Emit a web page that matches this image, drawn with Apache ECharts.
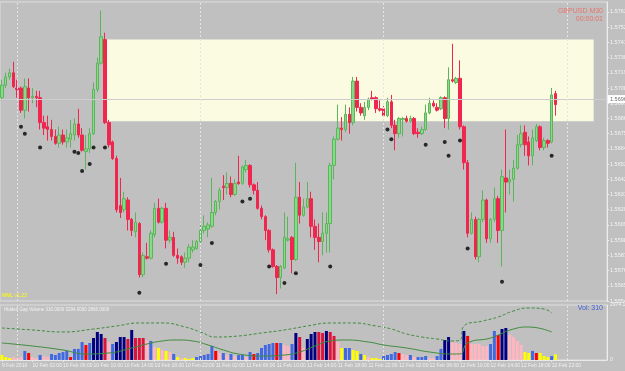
<!DOCTYPE html>
<html>
<head>
<meta charset="utf-8">
<title>GBPUSD M30</title>
<script src="https://cdn.jsdelivr.net/npm/echarts@6/dist/echarts.min.js"></script>
<style>
    html, body { margin: 0; padding: 0; background: #c0c0c0; }
    #main { width: 625px; height: 371px; }
</style>
</head>
<body>
<div id="main"></div>
<script>
    // M30 bars, [open, close, low, high]
    var candles = [
        [1.5701,1.5710,1.5699,1.5714],[1.5710,1.5716,1.5708,1.5719],[1.5716,1.5719,1.5714,1.5722],[1.5719,1.5709,1.5708,1.5727],
        [1.5708,1.5707,1.5701,1.5714],[1.5708,1.5692,1.5690,1.5709],[1.5692,1.5709,1.5686,1.5715],[1.5708,1.5701,1.5691,1.5715],
        [1.5701,1.5702,1.5697,1.5708],[1.5702,1.5701,1.5694,1.5706],[1.5701,1.5683,1.5678,1.5706],[1.5683,1.5679,1.5674,1.5688],
        [1.5680,1.5678,1.5670,1.5688],[1.5678,1.5673,1.5670,1.5685],[1.5673,1.5668,1.5667,1.5678],[1.5668,1.5674,1.5665,1.5680],
        [1.5674,1.5669,1.5667,1.5678],[1.5669,1.5672,1.5665,1.5678],[1.5671,1.5675,1.5665,1.5685],[1.5674,1.5682,1.5670,1.5686],
        [1.5682,1.5674,1.5672,1.5693],[1.5674,1.5663,1.5662,1.5679],[1.5662,1.5664,1.5649,1.5674],[1.5664,1.5675,1.5661,1.5679],
        [1.5675,1.5707,1.5674,1.5712],[1.5707,1.5726,1.5705,1.5730],[1.5726,1.5745,1.5725,1.5764],[1.5743,1.5683,1.5682,1.5748],
        [1.5683,1.5667,1.5665,1.5685],[1.5669,1.5657,1.5656,1.5670],[1.5657,1.5620,1.5618,1.5659],[1.5623,1.5618,1.5614,1.5643],
        [1.5620,1.5628,1.5618,1.5633],[1.5627,1.5613,1.5605,1.5629],[1.5613,1.5605,1.5601,1.5614],[1.5604,1.5611,1.5600,1.5618],
        [1.5610,1.5573,1.5571,1.5611],[1.5573,1.5587,1.5571,1.5589],[1.5586,1.5585,1.5584,1.5596],[1.5585,1.5603,1.5584,1.5605],
        [1.5602,1.5621,1.5600,1.5625],[1.5621,1.5611,1.5610,1.5628],[1.5611,1.5621,1.5610,1.5622],[1.5621,1.5598,1.5592,1.5625],
        [1.5598,1.5600,1.5596,1.5605],[1.5600,1.5587,1.5586,1.5604],[1.5587,1.5585,1.5581,1.5592],[1.5586,1.5582,1.5580,1.5587],
        [1.5582,1.5585,1.5578,1.5589],[1.5585,1.5593,1.5582,1.5595],[1.5591,1.5593,1.5589,1.5598],[1.5592,1.5597,1.5591,1.5598],
        [1.5597,1.5605,1.5596,1.5609],[1.5605,1.5608,1.5603,1.5616],[1.5606,1.5609,1.5600,1.5611],[1.5608,1.5618,1.5607,1.5643],
        [1.5618,1.5626,1.5616,1.5627],[1.5626,1.5634,1.5620,1.5636],[1.5637,1.5636,1.5627,1.5645],[1.5636,1.5639,1.5631,1.5647],
        [1.5639,1.5631,1.5629,1.5644],[1.5631,1.5639,1.5630,1.5642],[1.5640,1.5639,1.5638,1.5659],[1.5639,1.5651,1.5638,1.5652],
        [1.5649,1.5652,1.5647,1.5656],[1.5652,1.5638,1.5636,1.5653],[1.5638,1.5634,1.5631,1.5639],[1.5634,1.5621,1.5620,1.5640],
        [1.5621,1.5615,1.5613,1.5623],[1.5615,1.5605,1.5598,1.5616],[1.5605,1.5591,1.5589,1.5606],[1.5591,1.5579,1.5578,1.5592],
        [1.5579,1.5571,1.5559,1.5580],[1.5571,1.5579,1.5563,1.5580],[1.5578,1.5600,1.5577,1.5618],[1.5598,1.5599,1.5597,1.5615],
        [1.5600,1.5584,1.5574,1.5601],[1.5584,1.5629,1.5583,1.5654],[1.5629,1.5616,1.5610,1.5640],[1.5616,1.5622,1.5615,1.5628],
        [1.5622,1.5628,1.5621,1.5640],[1.5628,1.5608,1.5600,1.5633],[1.5608,1.5600,1.5591,1.5613],[1.5600,1.5597,1.5582,1.5610],
        [1.5597,1.5603,1.5587,1.5618],[1.5603,1.5610,1.5589,1.5618],[1.5610,1.5652,1.5589,1.5654],[1.5652,1.5671,1.5642,1.5673],
        [1.5671,1.5679,1.5670,1.5696],[1.5679,1.5678,1.5670,1.5687],[1.5678,1.5689,1.5676,1.5696],[1.5689,1.5683,1.5675,1.5694],
        [1.5683,1.5713,1.5681,1.5716],[1.5713,1.5694,1.5691,1.5716],[1.5694,1.5690,1.5688,1.5697],[1.5688,1.5694,1.5685,1.5698],
        [1.5694,1.5700,1.5692,1.5701],[1.5701,1.5700,1.5699,1.5706],[1.5701,1.5693,1.5690,1.5702],[1.5693,1.5692,1.5691,1.5699],
        [1.5693,1.5688,1.5687,1.5695],[1.5688,1.5698,1.5687,1.5701],[1.5698,1.5681,1.5679,1.5703],[1.5681,1.5675,1.5663,1.5685],
        [1.5675,1.5686,1.5672,1.5687],[1.5685,1.5686,1.5673,1.5687],[1.5686,1.5684,1.5683,1.5688],[1.5684,1.5686,1.5683,1.5688],
        [1.5686,1.5675,1.5674,1.5687],[1.5676,1.5675,1.5672,1.5679],[1.5675,1.5678,1.5674,1.5680],[1.5678,1.5690,1.5677,1.5696],
        [1.5690,1.5697,1.5689,1.5701],[1.5697,1.5695,1.5694,1.5699],[1.5694,1.5692,1.5691,1.5697],[1.5693,1.5701,1.5692,1.5702],
        [1.5701,1.5686,1.5679,1.5702],[1.5686,1.5714,1.5678,1.5723],[1.5714,1.5713,1.5712,1.5740],[1.5712,1.5715,1.5711,1.5716],
        [1.5715,1.5680,1.5678,1.5728],[1.5680,1.5654,1.5649,1.5681],[1.5654,1.5603,1.5600,1.5656],[1.5603,1.5613,1.5602,1.5618],
        [1.5613,1.5586,1.5584,1.5615],[1.5586,1.5613,1.5582,1.5614],[1.5613,1.5627,1.5611,1.5634],[1.5627,1.5599,1.5596,1.5628],
        [1.5599,1.5613,1.5596,1.5614],[1.5613,1.5628,1.5611,1.5636],[1.5628,1.5605,1.5596,1.5630],[1.5605,1.5644,1.5579,1.5649],
        [1.5643,1.5640,1.5618,1.5678],[1.5640,1.5642,1.5631,1.5649],[1.5642,1.5650,1.5626,1.5656],[1.5650,1.5667,1.5649,1.5674],
        [1.5667,1.5675,1.5665,1.5681],[1.5676,1.5667,1.5659,1.5681],[1.5669,1.5659,1.5652,1.5673],[1.5659,1.5672,1.5652,1.5678],
        [1.5670,1.5680,1.5669,1.5682],[1.5680,1.5665,1.5663,1.5681],[1.5665,1.5670,1.5663,1.5672],[1.5670,1.5668,1.5665,1.5671],
        [1.5669,1.5703,1.5668,1.5708],[1.5704,1.5696,1.5688,1.5706]
    ];

    // black markers under the bars: bar index and price
    var dotIndex = [5, 6, 10, 19, 20, 21, 23, 24, 27, 36, 43, 52, 55, 63, 65, 70, 74, 77, 86, 101, 102, 111, 116, 117, 120, 122, 131, 144];
    var dotPrice = [1.5680, 1.5675, 1.5665, 1.5662, 1.5661, 1.5648, 1.5653, 1.5665, 1.5665, 1.5560, 1.5581, 1.5580, 1.5596, 1.5626,
        1.5628, 1.5579, 1.5567, 1.5574, 1.5579, 1.5678, 1.5671, 1.5667, 1.5669, 1.5659, 1.5670, 1.5592, 1.5568, 1.5659];

    // supply zone (yellow box) and its bars
    var zoneHigh = 1.5743;
    var zoneLow = 1.5684;
    var zoneFrom = 27;
    var zoneTo = 155;

    // tick volume and colour code of each bar
    var volumes = [
        270, 160, 110, 160, 110, 160, 490, 380, 160, 110, 270, 215, 160, 325, 270, 380, 430, 490, 160, 600,
        600, 975, 810, 920, 1190, 1515, 1405, 1190, 975, 865, 975, 1245, 1245, 1135, 1625, 1190, 1190, 1190, 1030, 1030,
        705, 650, 540, 490, 430, 325, 160, 110, 110, 55, 110, 160, 215, 270, 325, 760, 490, 380, 380, 270,
        325, 215, 270, 270, 160, 430, 325, 380, 650, 810, 865, 920, 920, 920, 810, 760, 865, 1460, 1245, 650,
        1135, 1405, 1515, 1515, 1460, 1570, 1515, 1300, 975, 650, 650, 650, 540, 490, 325, 270, 160, 110, 110, 55,
        215, 270, 325, 430, 380, 325, 270, 270, 160, 160, 160, 215, 110, 110, 215, 600, 1080, 1245, 975, 920,
        865, 1570, 1300, 865, 865, 865, 760, 760, 865, 1570, 1355, 1675, 1730, 1355, 1245, 1030, 810, 430, 380, 490,
        380, 380, 215, 160, 215, 310
    ];
    var volCodes = [
        'yyypppbrpp', 'bppbbbbbrb', 'bbrbnnncpb', 'nnncncccpb', 'pypypbypyy', 'ybbbbbrpbp', 'bpbbpbrbbb',
        'bbrbppbncp', 'nnnccnccpy', 'bbyybypyyy', 'bbbbrppbpb', 'bbppbbnnpp', 'pnrpppppbb', 'rnnppppyyb', 'ryyyby'
    ].join('');

    // the two volume averages, [bar index, value]
    var maSlow = [[0, 1731], [8, 1623], [16, 1515], [24, 1677], [30, 1839], [36, 2002], [42, 2002], [48, 1785], [52, 1515],
        [56, 1244], [62, 1298], [68, 1461], [74, 1623], [80, 1839], [86, 2002], [92, 2002], [98, 1839], [102, 1677],
        [106, 1407], [110, 1244], [114, 1136], [118, 1028], [120, 1082], [121, 1839], [126, 2110], [130, 2326],
        [134, 2651], [138, 2813], [142, 2759], [144, 2543]];
    var maFast = [[0, 920], [8, 757], [16, 541], [22, 325], [28, 379], [34, 649], [38, 866], [42, 1028], [46, 1082], [50, 1028],
        [54, 812], [58, 541], [62, 325], [68, 216], [74, 271], [78, 433], [82, 757], [86, 1028], [90, 1082], [96, 974],
        [100, 812], [106, 649], [112, 433], [118, 325], [120, 325], [122, 920], [128, 1190], [134, 1677], [138, 1785],
        [144, 1515]];

    var dateLabels = ['9 Feb 2010', '10 Feb 02:00', '10 Feb 06:00', '10 Feb 10:00', '10 Feb 14:00', '10 Feb 18:00',
        '10 Feb 22:00', '11 Feb 02:00', '11 Feb 06:00', '11 Feb 10:00', '11 Feb 14:00', '11 Feb 18:00', '11 Feb 22:00',
        '12 Feb 02:00', '12 Feb 06:00', '12 Feb 10:00', '12 Feb 14:00', '12 Feb 18:00', '12 Feb 22:00'];
    var daySeparators = [4, 52, 100, 148];

    var SLOTS = 159;          // bars plus the empty shift on the right
    var LABEL_STEP = 8;       // one date label every 4 hours

    var volColorMap = {
        y: '#ffff00', p: '#ffb6c1', b: '#4169e1', n: '#000080', r: '#ff0000', c: '#dc143c'
    };

    var cats = [];
    for (var i = 0; i < SLOTS; i++) cats.push('b' + i);

    var dots = [];
    for (var i = 0; i < dotIndex.length; i++) dots.push([dotIndex[i], dotPrice[i]]);

    var volData = [];
    for (var i = 0; i < volumes.length; i++) {
        volData.push({ value: volumes[i], itemStyle: { color: volColorMap[volCodes[i]] } });
    }

    var lastClose = candles[candles.length - 1][1];

    var sepLines = daySeparators.map(function (k) { return { xAxis: cats[k] }; });
    var sepStyle = {
        silent: true, symbol: 'none', animation: false,
        label: { show: false },
        lineStyle: { color: '#e4e4e4', type: [2, 2], width: 1 },
        data: sepLines
    };

    function showDate(idx) {
        return idx % LABEL_STEP === 0 && idx / LABEL_STEP < dateLabels.length;
    }

    var chart = echarts.init(document.getElementById('main'));
    var smallFont = 'Liberation Sans';

    var option = {
        backgroundColor: '#c0c0c0',
        animation: false,
        grid: [
            { left: 0, top: 2, width: 607, height: 299, outerBoundsMode: 'none', containLabel: false,
              show: true, borderColor: '#dedede', borderWidth: 1 },
            { left: 0, top: 305, width: 607, height: 55, outerBoundsMode: 'none', containLabel: false,
              show: true, borderColor: '#dedede', borderWidth: 1 }
        ],
        xAxis: [
            {
                type: 'category', gridIndex: 0, data: cats, boundaryGap: true,
                axisLine: { show: false }, axisTick: { show: false }, axisLabel: { show: false },
                splitLine: { show: false }
            },
            {
                type: 'category', gridIndex: 1, data: cats, boundaryGap: true,
                axisLine: { show: true, lineStyle: { color: '#e8e8e8' } },
                axisTick: {
                    show: true, length: 2, alignWithLabel: true, lineStyle: { color: '#e8e8e8' },
                    interval: showDate
                },
                axisLabel: {
                    show: true, color: '#f2f2f2', fontSize: 5, fontFamily: smallFont, align: 'left', margin: 3,
                    interval: showDate, showMinLabel: true, hideOverlap: false,
                    formatter: function (val, idx) { return dateLabels[idx / LABEL_STEP] || ''; }
                },
                splitLine: { show: false }
            }
        ],
        yAxis: [
            {
                type: 'value', gridIndex: 0, position: 'right', scale: true,
                min: 1.5554, max: 1.57702, interval: 0.0011,
                axisLine: { show: true, lineStyle: { color: '#ececec' } },
                axisTick: { show: true, length: 2, lineStyle: { color: '#ececec' } },
                axisLabel: {
                    color: '#f4f4f4', fontSize: 5.5, fontFamily: smallFont, margin: 3, showMaxLabel: false,
                    formatter: function (v) { return v.toFixed(5); }
                },
                splitLine: { show: false }
            },
            {
                type: 'value', gridIndex: 1, position: 'right',
                min: 0, max: 2974.16, interval: 2974.16,
                axisLine: { show: true, lineStyle: { color: '#ececec' } },
                axisTick: { show: false },
                axisLabel: {
                    color: '#f4f4f4', fontSize: 5, fontFamily: smallFont, margin: 3,
                    formatter: function (v) { return v === 0 ? '0' : v.toFixed(2); }
                },
                splitLine: { show: false }
            }
        ],
        graphic: [
            { type: 'text', right: 22, top: 8, style: { text: 'GBPUSD M30', fill: '#e8736b', font: '7px "Liberation Sans"' } },
            { type: 'text', right: 22, top: 16, style: { text: '00:00:01', fill: '#e8736b', font: '7px "Liberation Sans"' } },
            { type: 'text', left: 2, top: 293, style: { text: 'MML v1.23', fill: '#ffff00', font: '5px "Liberation Sans"' } },
            { type: 'text', left: 4, top: 307, style: { text: 'Hidden Gap Volume 310.0000 3294.0000 2866.0000', fill: '#f2f2f2', font: '4.5px "Liberation Sans"' } },
            { type: 'text', right: 22, top: 305, style: { text: 'Vol: 310', fill: '#3f5fd8', font: '7px "Liberation Sans"' } }
        ],
        series: [
            {
                name: 'GBPUSD', type: 'candlestick', xAxisIndex: 0, yAxisIndex: 0,
                data: candles, barWidth: 3,
                itemStyle: {
                    color: '#86dc86', color0: '#f0264f',
                    borderColor: '#5cb55c', borderColor0: '#f0264f', borderWidth: 1
                },
                markArea: {
                    silent: true,
                    itemStyle: { color: '#fbfbe1', opacity: 1 },
                    data: [[{ xAxis: cats[zoneFrom], yAxis: zoneHigh }, { xAxis: cats[zoneTo], yAxis: zoneLow }]]
                },
                markLine: {
                    silent: true, symbol: 'none', animation: false,
                    lineStyle: { color: '#cdcdcd', type: 'solid', width: 1 },
                    label: {
                        show: true, position: 'end', distance: 1,
                        formatter: lastClose.toFixed(5),
                        color: '#707070', fontSize: 5.5, fontFamily: smallFont,
                        backgroundColor: '#ffffff', padding: [1, 2]
                    },
                    data: [{ yAxis: lastClose }]
                }
            },
            {
                name: 'marks', type: 'scatter', xAxisIndex: 0, yAxisIndex: 0,
                data: dots, symbol: 'circle', symbolSize: 4, z: 5,
                itemStyle: { color: '#000000' },
                markLine: sepStyle
            },
            {
                name: 'Volume', type: 'bar', xAxisIndex: 1, yAxisIndex: 1,
                data: volData, barWidth: 3,
                markLine: sepStyle
            },
            {
                name: 'slow', type: 'line', xAxisIndex: 1, yAxisIndex: 1,
                data: maSlow, smooth: true, symbol: 'none',
                lineStyle: { color: '#3e8c3e', width: 1, type: [3, 2] }
            },
            {
                name: 'fast', type: 'line', xAxisIndex: 1, yAxisIndex: 1,
                data: maFast, smooth: true, symbol: 'none',
                lineStyle: { color: '#3e8c3e', width: 1 }
            }
        ]
    };

    chart.setOption(option);
</script>
</body>
</html>
